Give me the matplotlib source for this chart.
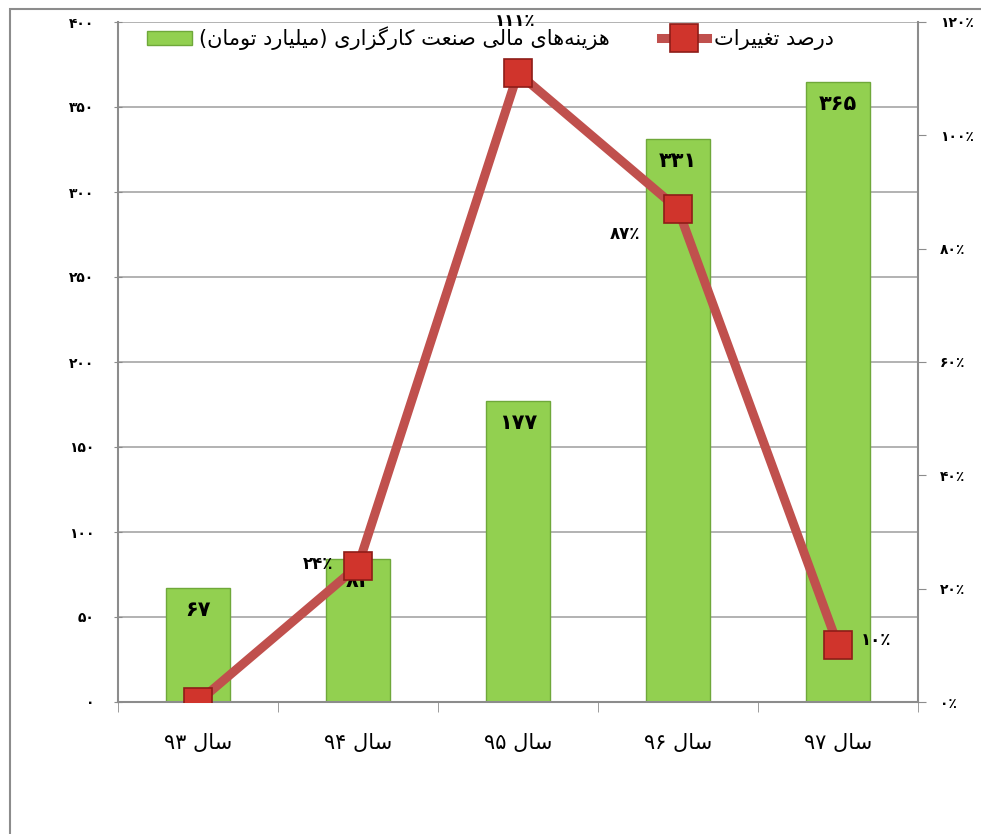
import re

import numpy as np
import matplotlib
matplotlib.use("Agg")
import matplotlib.pyplot as plt
from matplotlib.patches import Rectangle

# ---- data ----
YEARS = ["سال ۹۳", "سال ۹۴", "سال ۹۵", "سال ۹۶", "سال ۹۷"]
COSTS = [67, 84, 177, 331, 365]          # billion toman
CHANGE_PCT = [0, 24, 111, 87, 10]        # percent change
COST_LABEL = "هزینه\u200cهای مالی صنعت کارگزاری (میلیارد تومان)"
CHANGE_LABEL = "درصد تغییرات"
LEFT_TICKS = [0, 50, 100, 150, 200, 250, 300, 350, 400]
RIGHT_TICKS = [0, 20, 40, 60, 80, 100, 120]

BAR_COLOR = "#92D050"
BAR_EDGE = "#6FA83A"
LINE_COLOR = "#C0504D"
MARKER_COLOR = "#D0342C"
MARKER_EDGE = "#8E1C18"
GRID_COLOR = "#A6A6A6"

# ---- minimal Arabic/Persian shaping (matplotlib has no text shaping) ----
# letter: (isolated, final, initial, medial); right-joining letters have no initial/medial
FORMS = {
    "ا": ("\uFE8D", "\uFE8E", None, None),
    "ت": ("\uFE95", "\uFE96", "\uFE97", "\uFE98"),
    "د": ("\uFEA9", "\uFEAA", None, None),
    "ر": ("\uFEAD", "\uFEAE", None, None),
    "ز": ("\uFEAF", "\uFEB0", None, None),
    "س": ("\uFEB1", "\uFEB2", "\uFEB3", "\uFEB4"),
    "ص": ("\uFEB9", "\uFEBA", "\uFEBB", "\uFEBC"),
    "ع": ("\uFEC9", "\uFECA", "\uFECB", "\uFECC"),
    "غ": ("\uFECD", "\uFECE", "\uFECF", "\uFED0"),
    "ل": ("\uFEDD", "\uFEDE", "\uFEDF", "\uFEE0"),
    "م": ("\uFEE1", "\uFEE2", "\uFEE3", "\uFEE4"),
    "ن": ("\uFEE5", "\uFEE6", "\uFEE7", "\uFEE8"),
    "ه": ("\uFEE9", "\uFEEA", "\uFEEB", "\uFEEC"),
    "و": ("\uFEED", "\uFEEE", None, None),
    "ی": ("\uFBFC", "\uFBFD", "\uFBFE", "\uFBFF"),
    "ک": ("\uFB8E", "\uFB8F", "\uFB90", "\uFB91"),
    "گ": ("\uFB92", "\uFB93", "\uFB94", "\uFB95"),
}
NUM_CHARS = "۰۱۲۳۴۵۶۷۸۹0123456789٪%"


def shape(text):
    out = []
    for i, ch in enumerate(text):
        if ch not in FORMS:
            out.append(ch)
            continue
        prev = text[i - 1] if i > 0 else ""
        nxt = text[i + 1] if i + 1 < len(text) else ""
        iso, fin, ini, med = FORMS[ch]
        join_prev = prev in FORMS and FORMS[prev][2] is not None
        join_next = ini is not None and nxt in FORMS
        if join_prev and join_next:
            out.append(med)
        elif join_prev:
            out.append(fin)
        elif join_next:
            out.append(ini)
        else:
            out.append(iso)
    return "".join(out).replace("\u200c", "")


def rtl(text):
    """Shape and reorder a Persian string for left-to-right drawing."""
    runs = re.findall(f"[{NUM_CHARS}]+|[^{NUM_CHARS}]+", shape(text))
    mirror = str.maketrans("()", ")(")
    parts = []
    for run in reversed(runs):
        parts.append(run if run[0] in NUM_CHARS else run[::-1].translate(mirror))
    return "".join(parts)


def fa(num):
    return str(num).translate(str.maketrans("0123456789", "۰۱۲۳۴۵۶۷۸۹"))


plt.rcParams["font.family"] = ["DejaVu Sans"]

fig = plt.figure(figsize=(9.81, 8.34), dpi=100)
# outer chart frame
fig.patches.append(Rectangle((10 / 981, -0.1), 1.2, 1.1 - 9 / 834, transform=fig.transFigure,
                             fill=False, edgecolor="#8C8C8C", linewidth=1.5))

ax = fig.add_axes([118 / 981, 132 / 834, 800 / 981, 680 / 834])
x = np.arange(len(YEARS))
bars = ax.bar(x, COSTS, width=0.4, color=BAR_COLOR, edgecolor=BAR_EDGE, linewidth=1,
              label=rtl(COST_LABEL), zorder=2)
ax.set_xlim(-0.5, len(YEARS) - 0.5)
ax.set_ylim(0, 400)
ax.set_yticks(LEFT_TICKS)
ax.set_yticklabels([fa(t) for t in LEFT_TICKS], fontsize=10, fontweight="bold")
ax.set_xticks(x)
ax.set_xticklabels([rtl(y) for y in YEARS], fontsize=15)
ax.set_xticks(np.arange(len(YEARS) + 1) - 0.5, minor=True)
ax.tick_params(axis="x", which="major", length=0, pad=22)
ax.tick_params(axis="x", which="minor", length=7, color="#8C8C8C", direction="out")
ax.tick_params(axis="y", length=6, color="#8C8C8C", direction="inout", pad=14)
ax.yaxis.grid(True, color=GRID_COLOR, linewidth=1.2)
ax.set_axisbelow(True)
for side in ("top", "right"):
    ax.spines[side].set_visible(False)
for side in ("left", "bottom"):
    ax.spines[side].set_color("#8C8C8C")
    ax.spines[side].set_linewidth(1.5)

for rect, val in zip(bars, COSTS):
    ax.annotate(fa(val), (rect.get_x() + rect.get_width() / 2, val), xytext=(0, -22),
                textcoords="offset pixels", ha="center", va="center",
                fontsize=15, fontweight="bold", zorder=5)

ax2 = ax.twinx()
line, = ax2.plot(x, [p / 100 for p in CHANGE_PCT], color=LINE_COLOR, linewidth=6.5,
                 marker="s", markersize=20, markerfacecolor=MARKER_COLOR,
                 markeredgecolor=MARKER_EDGE, markeredgewidth=1.2, label=rtl(CHANGE_LABEL))
ax2.set_ylim(0, 1.2)
ax2.set_yticks([t / 100 for t in RIGHT_TICKS])
ax2.set_yticklabels([fa(t) + "٪" for t in RIGHT_TICKS], fontsize=10, fontweight="bold")
ax2.tick_params(axis="y", length=6, color="#8C8C8C", direction="out", pad=10)
for side in ("top", "left", "bottom"):
    ax2.spines[side].set_visible(False)
ax2.spines["right"].set_color("#8C8C8C")
ax2.spines["right"].set_linewidth(1.5)

# percent labels, offsets in pixels from each marker (first point hidden under its marker)
pct_offsets = [None, (-40, 2), (-3, 52), (-53, -25), (38, 5)]
for xi, p, off in zip(x, CHANGE_PCT, pct_offsets):
    if off is None:
        continue
    ax2.annotate(fa(p) + "٪", (xi, p / 100), xytext=off, textcoords="offset pixels",
                 ha="center", va="center", fontsize=12, fontweight="bold")

ax.legend([bars, line], [rtl(COST_LABEL), rtl(CHANGE_LABEL)], loc="center",
          bbox_to_anchor=(0.465, 0.976), ncol=2, frameon=False, fontsize=15,
          handlelength=2.2, columnspacing=2.5, handletextpad=0.3)

fig.savefig("out.png", dpi=100)
